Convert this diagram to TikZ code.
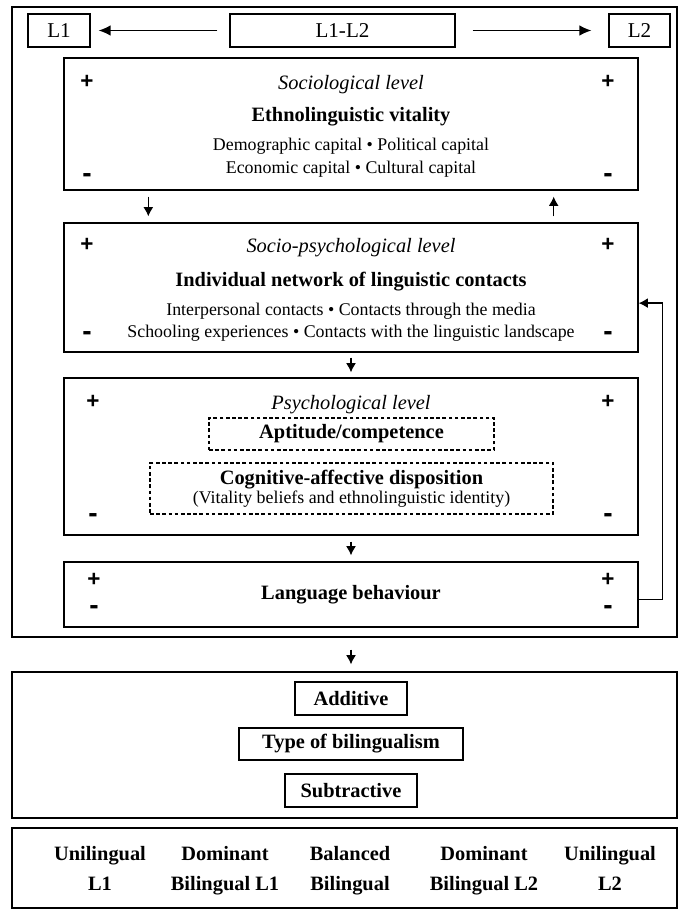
\documentclass[tikz,border=0pt]{standalone}
\usepackage{fontspec}
\setmainfont{Liberation Serif}
\setsansfont{Liberation Sans}
\usetikzlibrary{arrows.meta}

\begin{document}
\begin{tikzpicture}[
	> = {Latex[length = 6.5pt, width = 7pt]},
	x = 0.025 cm, y = -0.025 cm,
	frame/.style = {draw, line width = 0.9 pt, inner sep = 0 pt},
	levelbox/.style = {frame, minimum width = 14.35 cm},
	dashbox/.style = {draw, line width = 0.8 pt, dash pattern = on 2.6 pt off 1.8 pt, inner sep = 0 pt},
	labelfont/.style = {font = \fontsize{15}{18}\selectfont},
	italfont/.style = {font = \fontsize{14.5}{17}\selectfont\itshape},
	boldfont/.style = {font = \fontsize{14.5}{17}\selectfont\bfseries},
	textfont/.style = {font = \fontsize{12.7}{15}\selectfont},
	plussign/.style = {font = \fontsize{16}{16}\selectfont\sffamily\bfseries},
	minussign/.style = {font = \fontsize{20}{20}\selectfont\sffamily\bfseries},
	link/.style = {->, line width = 0.9 pt},
	toplink/.style = {-{Latex[length = 8.5pt, width = 7.5pt]}, line width = 0.9 pt}
]

	\useasboundingbox (0, 0) rectangle (678, 909);

	\node (upper) [frame, minimum width = 16.625 cm, minimum height = 15.75 cm] at (344.5, 322) {};

	\node (l1) [frame, labelfont, minimum width = 1.55 cm, minimum height = 0.825 cm] at (59, 30.5) {L1};
	\node (l1l2) [frame, labelfont, minimum width = 5.625 cm, minimum height = 0.825 cm] at (342.5, 30.5) {L1-L2};
	\node (l2) [frame, labelfont, minimum width = 1.525 cm, minimum height = 0.825 cm] at (639.5, 30.5) {L2};

	\draw [toplink, shorten < = 0.3 cm, shorten > = 0.2 cm] (l1l2) -- (l1);
	\draw [toplink, shorten < = 0.425 cm, shorten > = 0.425 cm] (l1l2) -- (l2);

	\node (soc) [levelbox, minimum height = 3.3 cm] at (351, 124) {};
	\node (soctitle) [italfont, anchor = base] at (351, 89) {Sociological level};
	\node (socname) [boldfont, anchor = base] at (351, 121) {Ethnolinguistic vitality};
	\node (socline1) [textfont, anchor = base] at (351, 150) {Demographic capital \textbullet{} Political capital};
	\node (socline2) [textfont, anchor = base] at (351, 173) {Economic capital \textbullet{} Cultural capital};

	\node (sp) [levelbox, minimum height = 3.225 cm] at (351, 287.5) {};
	\node (sptitle) [italfont, anchor = base] at (351, 252) {Socio-psychological level};
	\node (spname) [boldfont, anchor = base] at (351, 286) {Individual network of linguistic contacts};
	\node (spline1) [textfont, anchor = base] at (351, 315) {Interpersonal contacts \textbullet{} Contacts through the media};
	\node (spline2) [textfont, anchor = base] at (351, 337) {Schooling experiences \textbullet{} Contacts with the linguistic landscape};

	\node (psy) [levelbox, minimum height = 3.925 cm] at (351, 456.5) {};
	\node (psytitle) [italfont, anchor = base] at (351, 409) {Psychological level};
	\node (apt) [dashbox, boldfont, minimum width = 7.125 cm, minimum height = 0.8 cm] at (351.5, 434) {Aptitude/competence};
	\node (cog) [dashbox, minimum width = 10.075 cm, minimum height = 1.275 cm] at (351.5, 488.5) {};
	\node (cogname) [boldfont, anchor = base] at (351.5, 484) {Cognitive-affective disposition};
	\node (cognote) [textfont, anchor = base] at (351.5, 503) {(Vitality beliefs and ethnolinguistic identity)};

	\node (lang) [levelbox, boldfont, minimum height = 1.625 cm] at (351, 594.5) {Language behaviour};

	\foreach \lvl/\lx/\ytop/\ybot in {soc/87/82/178, sp/87/245/336, psy/93/402/518, lang/94/580/610} {
		\node (\lvl-pl) [plussign] at (\lx, \ytop) {+};
		\node (\lvl-pr) [plussign] at (608, \ytop) {+};
		\node (\lvl-ml) [minussign] at (\lx, \ybot) {-};
		\node (\lvl-mr) [minussign] at (608, \ybot) {-};
	}

	\draw [link, shorten < = 0.15 cm, shorten > = 0.15 cm] ([xshift = 2.125 cm] soc.south west) -- ([xshift = 2.125 cm] sp.north west);
	\draw [link, shorten < = 0.15 cm, shorten > = 0.15 cm] ([xshift = -2.125 cm] sp.north east) -- ([xshift = -2.125 cm] soc.south east);
	\draw [link, shorten < = 0.125 cm, shorten > = 0.125 cm] (sp) -- (psy);
	\draw [link, shorten < = 0.15 cm, shorten > = 0.15 cm] (psy) -- (lang);
	\draw [link] ([yshift = -0.125 cm] lang.east) -- ++(0.6 cm, 0) |- ([yshift = -0.39 cm] sp.east);

	\node (lower) [frame, minimum width = 16.625 cm, minimum height = 3.65 cm] at (344.5, 745) {};
	\draw [link, shorten < = 0.3 cm, shorten > = 0.175 cm] (upper.south -| lang.south) -- (lower.north -| lang.south);

	\node (additive) [frame, boldfont, minimum width = 2.8 cm, minimum height = 0.825 cm] at (351, 698.5) {Additive};
	\node (type) [frame, boldfont, minimum width = 5.6 cm, minimum height = 0.8 cm] at (351, 744) {Type of bilingualism};
	\node (subtractive) [frame, boldfont, minimum width = 3.3 cm, minimum height = 0.825 cm] at (351, 790.5) {Subtractive};

	\node (outcome) [frame, minimum width = 16.625 cm, minimum height = 2 cm] at (344.5, 868) {};

	\foreach \name/\px/\wordA/\wordB in {uni1/100/Unilingual/L1, dom1/225/Dominant/Bilingual L1, bal/350/Balanced/Bilingual, dom2/484/Dominant/Bilingual L2, uni2/610/Unilingual/L2} {
		\node (\name-a) [boldfont, anchor = base] at (\px, 860) {\wordA};
		\node (\name-b) [boldfont, anchor = base] at (\px, 890) {\wordB};
	}

\end{tikzpicture}
\end{document}
